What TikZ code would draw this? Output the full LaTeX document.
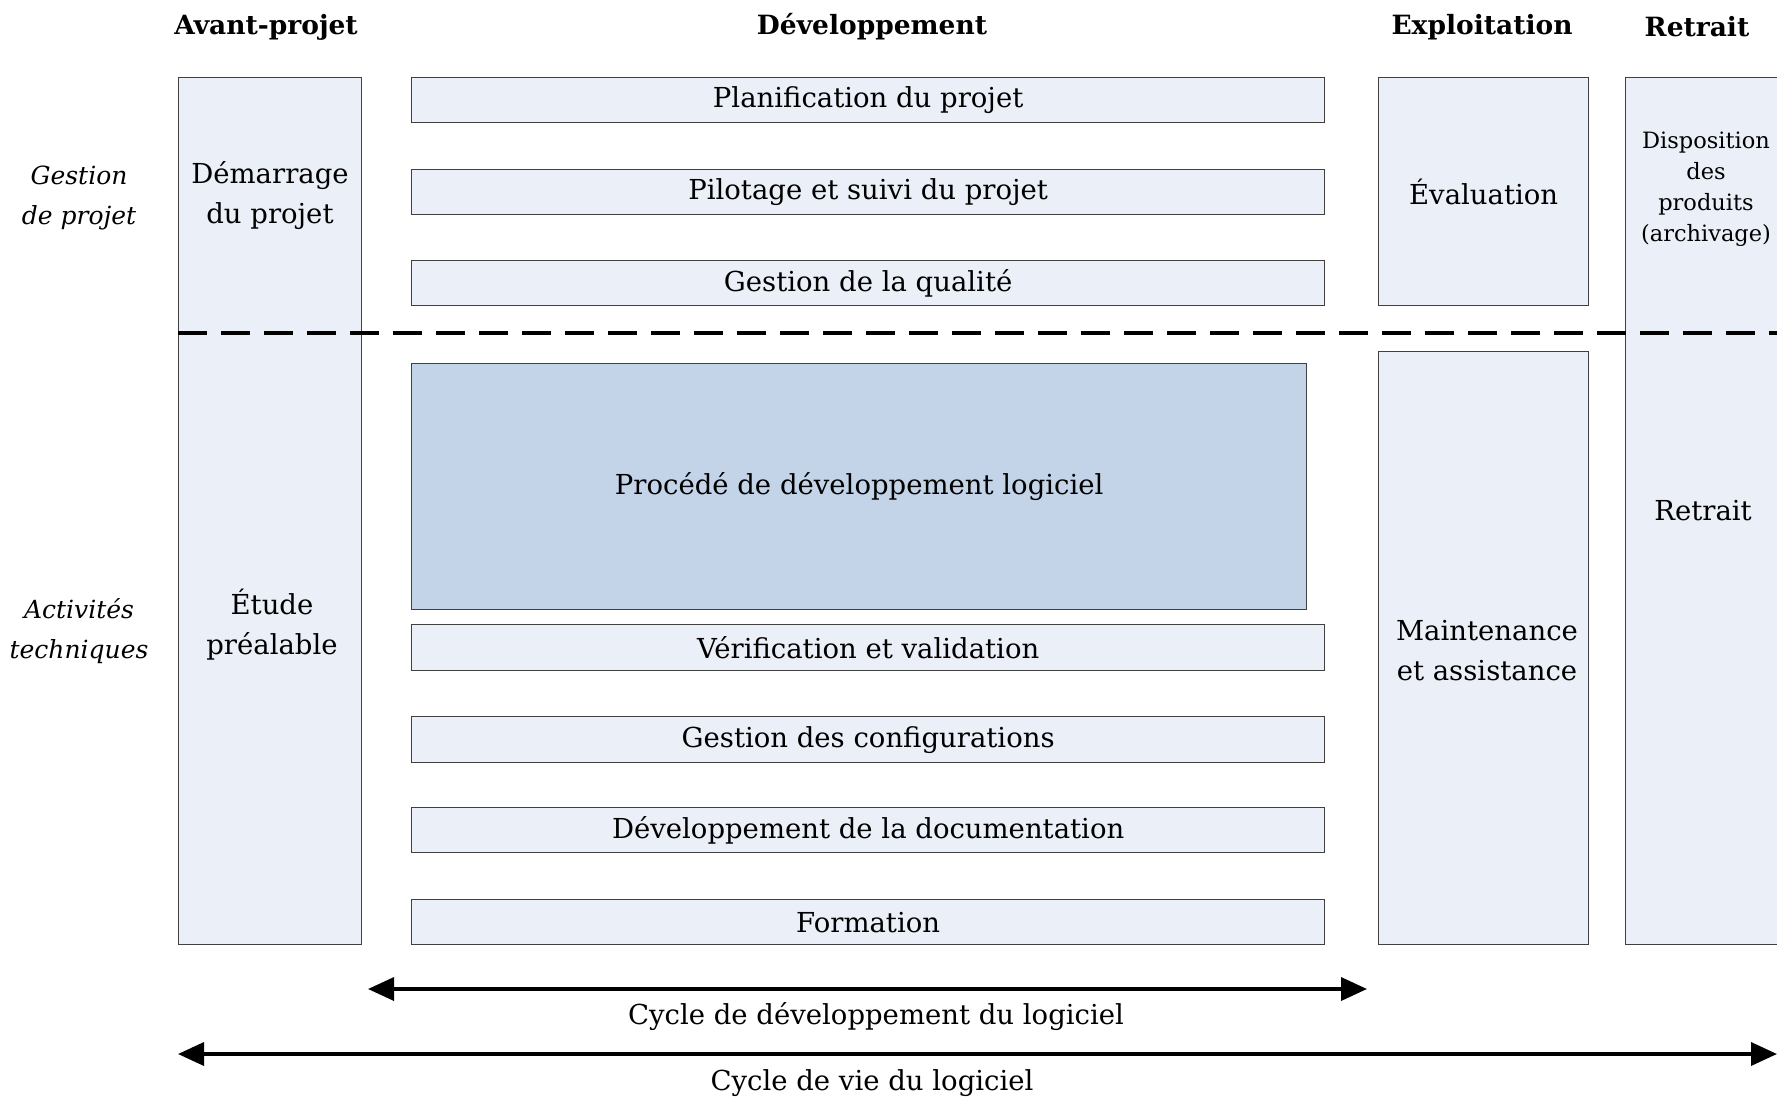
\documentclass[tikz,border=0pt]{standalone}
\usepackage{fontspec}
\setmainfont{DejaVu Serif}
\usetikzlibrary{arrows.meta}
\definecolor{boxfill}{HTML}{EBF0F8}
\definecolor{procfill}{HTML}{C3D3E8}
\definecolor{boxline}{HTML}{404040}
\tikzset{
  box/.style={draw=boxline, fill=boxfill, line width=1.3pt, inner sep=0pt, anchor=north west},
  txt/.style={font=\fontsize{27.5}{40}\selectfont, align=center, inner sep=0pt},
  small/.style={font=\fontsize{22.5}{31}\selectfont, align=center, inner sep=0pt},
  hdr/.style={font=\fontsize{26.5}{30}\selectfont\bfseries, inner sep=0pt},
  side/.style={font=\fontsize{25}{40}\selectfont\itshape, align=center, inner sep=0pt},
  sep/.style={line width=4pt, dash pattern=on 29pt off 14pt},
  arr/.style={line width=3.5pt, {Triangle[length=26pt,width=23pt]}-{Triangle[length=26pt,width=23pt]}},
}
\begin{document}
\begin{tikzpicture}[x=1pt,y=-1pt]
\useasboundingbox (0,0) rectangle (1777,1100);
\clip (0,0) rectangle (1777,1100);
% headers
\node[hdr] (hav) at (266,27) {Avant-projet};
\node[hdr] (hdev) at (872,27) {Développement};
\node[hdr] (hexp) at (1482,27) {Exploitation};
\node[hdr] (hret) at (1697,27) {Retrait};
% side labels
\node[side] (lgest) at (79,198) {Gestion\\de projet};
\node[side] (lact) at (79,631) {Activités\\techniques};
% Avant-projet column
\node[box, minimum width=183pt, minimum height=867pt] (avant) at (178,77) {};
\node[txt] (dem) at (270,196) {Démarrage\\du projet};
\node[txt] (etude) at (272,625) {Étude\\préalable};
% development bars
\node[box, txt, minimum width=913pt, minimum height=45pt] (plan) at (411,77) {Planification du projet};
\node[box, txt, minimum width=913pt, minimum height=45pt] (pilot) at (411,169) {Pilotage et suivi du projet};
\node[box, txt, minimum width=913pt, minimum height=45pt] (qual) at (411,260) {Gestion de la qualité};
\node[box, txt, fill=procfill, minimum width=895pt, minimum height=246pt] (proc) at (411,363) {Procédé de développement logiciel};
\node[box, txt, minimum width=913pt, minimum height=46pt] (verif) at (411,624) {Vérification et validation};
\node[box, txt, minimum width=913pt, minimum height=46pt] (conf) at (411,716) {Gestion des configurations};
\node[box, txt, minimum width=913pt, minimum height=45pt] (doc) at (411,807) {Développement de la documentation};
\node[box, txt, minimum width=913pt, minimum height=45pt] (form) at (411,899) {Formation};
% exploitation
\node[box, txt, minimum width=210pt, minimum height=228pt] (eval) at (1378,77) {Évaluation};
\node[box, minimum width=210pt, minimum height=593pt] (maint) at (1378,351) {};
\node[txt] (mainttxt) at (1487,651) {Maintenance\\et assistance};
% retrait
\node[box, minimum width=170pt, minimum height=867pt] (retr) at (1625,77) {};
\node[small] (disp) at (1706,189) {Disposition\\des\\produits\\(archivage)};
\node[txt] (retrtxt) at (1703,511) {Retrait};
% separator
\coordinate (sepl) at (178,333);
\coordinate (sepr) at (1777,333);
\draw[sep] (sepl) -- (sepr);
% arrows
\coordinate (a1l) at (368,989);
\coordinate (a1r) at (1367,989);
\draw[arr] (a1l) -- (a1r);
\node[txt] (cdev) at (876,1017) {Cycle de développement du logiciel};
\coordinate (a2l) at (178,1054);
\coordinate (a2r) at (1777,1054);
\draw[arr] (a2l) -- (a2r);
\node[txt] (cvie) at (872,1083) {Cycle de vie du logiciel};
\end{tikzpicture}
\end{document}
